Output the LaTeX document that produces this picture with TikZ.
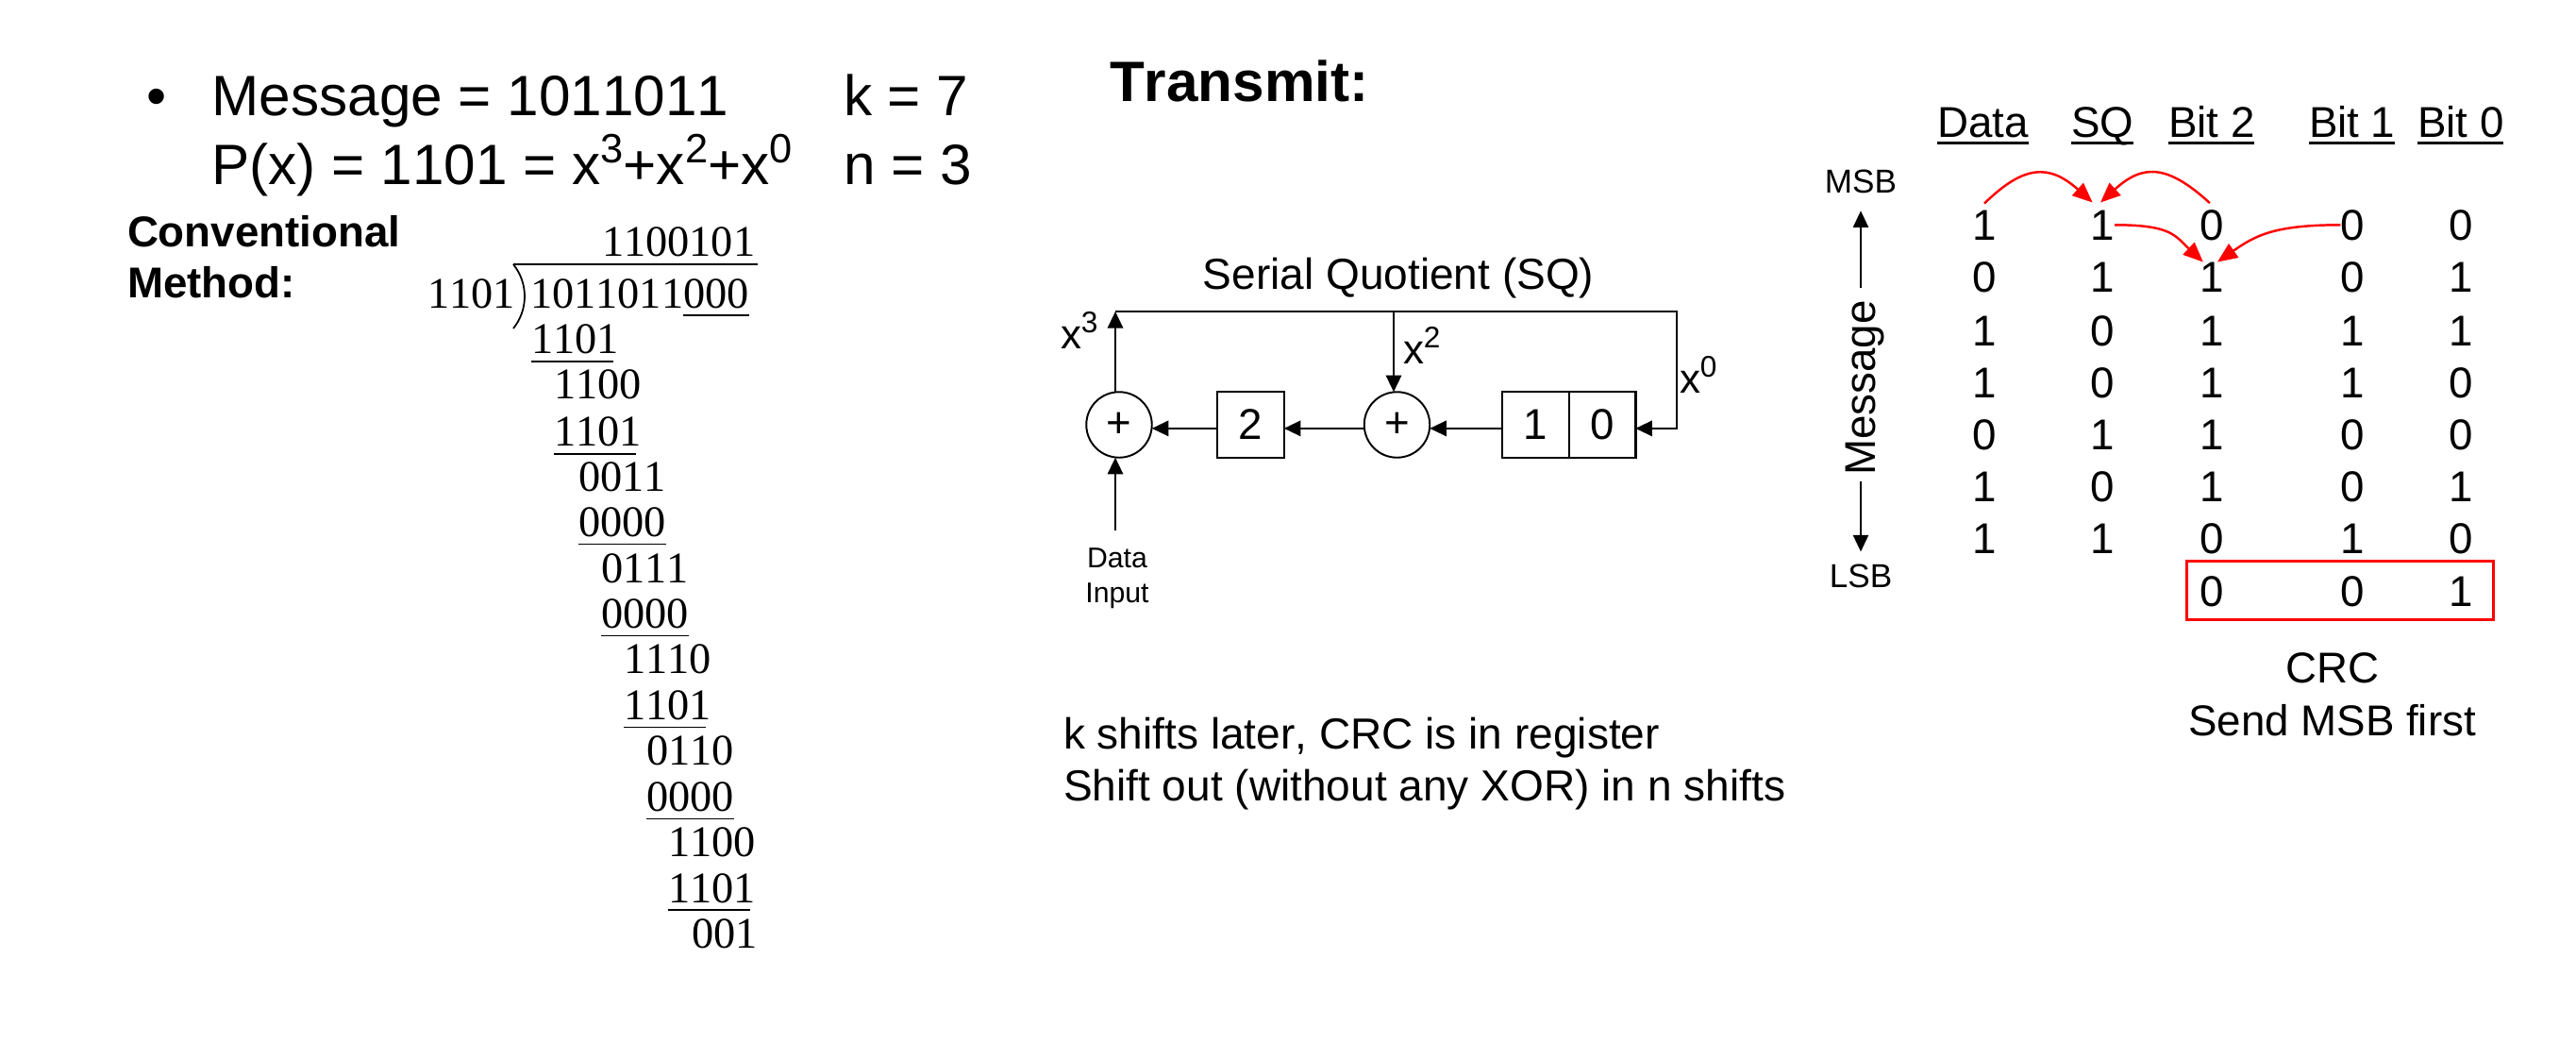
\documentclass[tikz,border=0pt]{standalone}
\usepackage{fontspec}
\setmainfont[Kerning=Off,Ligatures=NoCommon]{Liberation Sans}
\newfontfamily\divfont[Kerning=Off]{Liberation Serif}
\usetikzlibrary{positioning,arrows.meta}
\newcommand{\powr}[1]{\raisebox{0.38em}{\scalebox{0.72}{#1}}}
\newcommand{\divrule}[2][0pt]{\draw[divline] ([yshift=-2.3pt]#2.south west) -- ([xshift=-#1,yshift=-2.3pt]#2.south east);}
\newcommand{\headrule}[1]{\draw[headline] ([yshift=-1.8pt]#1.south west) -- ([yshift=-1.8pt]#1.south east);}

\begin{document}
\begin{tikzpicture}[
      y=-1cm,
      every node/.style={align=center, inner sep=0pt, outer sep=0pt},
      title/.style={anchor=base west, font=\fontsize{17.15}{20}\selectfont},
      body/.style={font=\fontsize{13.1}{15.6}\selectfont},
      divrow/.style={anchor=base west, text depth=0pt, font=\divfont\fontsize{13.2}{16}\selectfont},
      divline/.style={line width=0.5pt},
      headline/.style={line width=0.75pt},
      header/.style={anchor=base west, text depth=0pt, font=\fontsize{13}{15.6}\selectfont},
      bitcell/.style={anchor=base, font=\fontsize{13}{15.6}\selectfont},
      regbox/.style={draw, line width=0.7pt, minimum width=0.705cm, minimum height=0.70cm, font=\fontsize{13}{15}\selectfont},
      sumnode/.style={draw, circle, line width=0.55pt, minimum size=0.695cm, font=\fontsize{13}{15}\selectfont},
      arrow/.style={line width=0.7pt, -{Triangle[length=5pt,width=4.6pt]}},
      redarrow/.style={line width=0.7pt, red, -{Triangle[length=6pt,width=5pt]}},
      crcbox/.style={draw=red, line width=0.9pt, minimum width=3.25cm, minimum height=0.62cm}
    ]
      \useasboundingbox (0,0) rectangle (27.30,11.22);

      % Message and polynomial
      \node[title] (bullet) at (1.55,1.22) {•};
      \node[title] (message) at (2.245,1.22) {Message = 1011011};
      \node[title] (kvalue) at (8.94,1.22) {k = 7};
      \node[title] (poly) at (2.245,1.95) {P(x) = 1101 = x\powr{3}+x\powr{2}+x\powr{0}};
      \node[title] (nvalue) at (8.94,1.95) {n = 3};
      \node[title] (transmit) at (11.76,1.07) {\bfseries Transmit:};
      \node[anchor=north west, align=left, font=\bfseries\fontsize{13}{15.4}\selectfont] (method) at (1.35,2.28) {Conventional\\Method:};

      % Long division
      \node[divrow] (quotient) at (6.38,2.71) {1100101};
      \node[divrow] (divisor) at (4.53,3.26) {1101};
      \node[divrow] (dividend) at (5.62,3.26) {1011011};
      \node[divrow, base right=0pt of dividend] (zeros) {000};
      \draw[divline] (5.44,2.80) -- (8.03,2.80);
      \draw[divline] (5.44,2.80) .. controls (5.60,3.00) and (5.60,3.28) .. (5.44,3.48);
      \node[divrow] (row1) at (5.63,3.746) {1101};
      \node[divrow] (row2) at (5.87,4.226) {1100};
      \node[divrow] (row3) at (5.87,4.726) {1101};
      \node[divrow] (row4) at (6.13,5.20) {0011};
      \node[divrow] (row5) at (6.13,5.685) {0000};
      \node[divrow] (row6) at (6.37,6.17) {0111};
      \node[divrow] (row7) at (6.37,6.654) {0000};
      \node[divrow] (row8) at (6.61,7.139) {1110};
      \node[divrow] (row9) at (6.61,7.623) {1101};
      \node[divrow] (row10) at (6.85,8.108) {0110};
      \node[divrow] (row11) at (6.85,8.593) {0000};
      \node[divrow] (row12) at (7.08,9.078) {1100};
      \node[divrow] (row13) at (7.08,9.562) {1101};
      \node[divrow] (row14) at (7.33,10.047) {001};
      \divrule{zeros}
      \divrule[1.7pt]{row1}
      \divrule[1.7pt]{row3}
      \divrule{row5}
      \divrule{row7}
      \divrule[1.7pt]{row9}
      \divrule{row11}
      \divrule[1.7pt]{row13}

      % Shift register
      \node[body, anchor=base] (sqlabel) at (14.82,3.06) {Serial Quotient (SQ)};
      \node[sumnode] (sumA) at (11.86,4.50) {+};
      \node[regbox, right=0.695cm of sumA] (reg2) {2};
      \node[sumnode, right=0.85cm of reg2] (sumB) {+};
      \node[regbox, right=0.77cm of sumB] (reg1) {1};
      \node[regbox, right=0pt of reg1] (reg0) {0};
      \coordinate (topL) at (11.82,3.30);
      \coordinate (tap) at (14.77,3.30);
      \coordinate (topR) at (17.77,3.30);
      \coordinate (datain) at (11.82,5.62);
      \draw[arrow] (topL) -- (topR) |- ([yshift=-1.1pt]reg0.east);
      \draw[arrow] (tap) -- (tap |- sumB.north);
      \draw[arrow] (topL |- sumA.north) -- (topL);
      \draw[arrow] (datain) -- (datain |- sumA.south);
      \draw[arrow] ([yshift=-1.1pt]reg1.west) -- ([yshift=-1.1pt]sumB.east);
      \draw[arrow] ([yshift=-1.1pt]sumB.west) -- ([yshift=-1.1pt]reg2.east);
      \draw[arrow] ([yshift=-1.1pt]reg2.west) -- ([yshift=-1.1pt]sumA.east);
      \node[anchor=base west, font=\fontsize{12.5}{15}\selectfont] (xthree) at (11.24,3.69) {x\powr{3}};
      \node[anchor=base west, font=\fontsize{12.5}{15}\selectfont] (xtwo) at (14.87,3.85) {x\powr{2}};
      \node[anchor=base west, font=\fontsize{12.5}{15}\selectfont] (xzero) at (17.80,4.16) {x\powr{0}};
      \node[anchor=north, font=\fontsize{8.6}{10.5}\selectfont] (datalabel) at (11.84,5.81) {Data\\Input};
      \node[anchor=north west, align=left, font=\fontsize{13.1}{15.7}\selectfont] (notes) at (11.27,7.60) {k shifts later, CRC is in register\\Shift out (without any XOR) in n shifts};

      % Table headers
      \node[header] (hdata) at (20.53,1.45) {Data};
      \node[header] (hsq) at (21.95,1.45) {SQ};
      \node[header] (hbit2) at (22.98,1.45) {Bit 2};
      \node[header] (hbit1) at (24.47,1.45) {Bit 1};
      \node[header] (hbit0) at (25.62,1.45) {Bit 0};
      \headrule{hdata}
      \headrule{hsq}
      \headrule{hbit2}
      \headrule{hbit1}
      \headrule{hbit0}

      % Table rows
      \node[bitcell] (d1) at (21.03,2.54) {1}; \node[bitcell] (s1) at (22.285,2.54) {1}; \node[bitcell] (a1) at (23.44,2.54) {0}; \node[bitcell] (b1) at (24.93,2.54) {0}; \node[bitcell] (c1) at (26.08,2.54) {0};
      \node[bitcell] (d2) at (21.03,3.09) {0}; \node[bitcell] (s2) at (22.285,3.09) {1}; \node[bitcell] (a2) at (23.44,3.09) {1}; \node[bitcell] (b2) at (24.93,3.09) {0}; \node[bitcell] (c2) at (26.08,3.09) {1};
      \node[bitcell] (d3) at (21.03,3.66) {1}; \node[bitcell] (s3) at (22.285,3.66) {0}; \node[bitcell] (a3) at (23.44,3.66) {1}; \node[bitcell] (b3) at (24.93,3.66) {1}; \node[bitcell] (c3) at (26.08,3.66) {1};
      \node[bitcell] (d4) at (21.03,4.21) {1}; \node[bitcell] (s4) at (22.285,4.21) {0}; \node[bitcell] (a4) at (23.44,4.21) {1}; \node[bitcell] (b4) at (24.93,4.21) {1}; \node[bitcell] (c4) at (26.08,4.21) {0};
      \node[bitcell] (d5) at (21.03,4.76) {0}; \node[bitcell] (s5) at (22.285,4.76) {1}; \node[bitcell] (a5) at (23.44,4.76) {1}; \node[bitcell] (b5) at (24.93,4.76) {0}; \node[bitcell] (c5) at (26.08,4.76) {0};
      \node[bitcell] (d6) at (21.03,5.31) {1}; \node[bitcell] (s6) at (22.285,5.31) {0}; \node[bitcell] (a6) at (23.44,5.31) {1}; \node[bitcell] (b6) at (24.93,5.31) {0}; \node[bitcell] (c6) at (26.08,5.31) {1};
      \node[bitcell] (d7) at (21.03,5.86) {1}; \node[bitcell] (s7) at (22.285,5.86) {1}; \node[bitcell] (a7) at (23.44,5.86) {0}; \node[bitcell] (b7) at (24.93,5.86) {1}; \node[bitcell] (c7) at (26.08,5.86) {0};
      \node[bitcell] (a8) at (23.44,6.42) {0}; \node[bitcell] (b8) at (24.93,6.42) {0}; \node[bitcell] (c8) at (26.08,6.42) {1};
      \node[crcbox] (crcframe) at (24.80,6.255) {};
      \node[anchor=north, font=\fontsize{13}{15.9}\selectfont] (crclabel) at (24.715,6.92) {CRC\\Send MSB first};

      % MSB to LSB axis
      \node[anchor=base, font=\fontsize{10}{12}\selectfont] (msb) at (19.72,2.04) {MSB};
      \node[anchor=base, font=\fontsize{10}{12}\selectfont] (lsb) at (19.72,6.22) {LSB};
      \node[anchor=base, rotate=90, font=\fontsize{13}{15.6}\selectfont] (messageaxis) at (19.87,4.11) {Message};
      \draw[arrow, line width=0.5pt, shorten <=3.7pt, shorten >=5.4pt] (messageaxis.east -| msb.south) -- (msb.south);
      \draw[arrow, line width=0.5pt, shorten <=1.7pt, shorten >=3.7pt] (messageaxis.west -| lsb.north) -- (lsb.north);

      % Red shift arrows
      \draw[redarrow] ([yshift=2pt]d1.north) .. controls +(0.42,-0.41) and +(-0.46,-0.41) .. ([shift={(-3.1pt,2.3pt)}]s1.north);
      \draw[redarrow] ([shift={(-0.6pt,2pt)}]a1.north) .. controls +(-0.45,-0.41) and +(0.45,-0.41) .. ([shift={(-0.7pt,2.3pt)}]s1.north);
      \draw[redarrow] (s1.east) .. controls +(0.60,0) and +(-0.30,-0.28) .. ([xshift=-2.6pt]a2.north);
      \draw[redarrow] (b1.west) .. controls +(-0.70,0) and +(0.40,-0.28) .. ([xshift=1.7pt]a2.north);
    \end{tikzpicture}
\end{document}
